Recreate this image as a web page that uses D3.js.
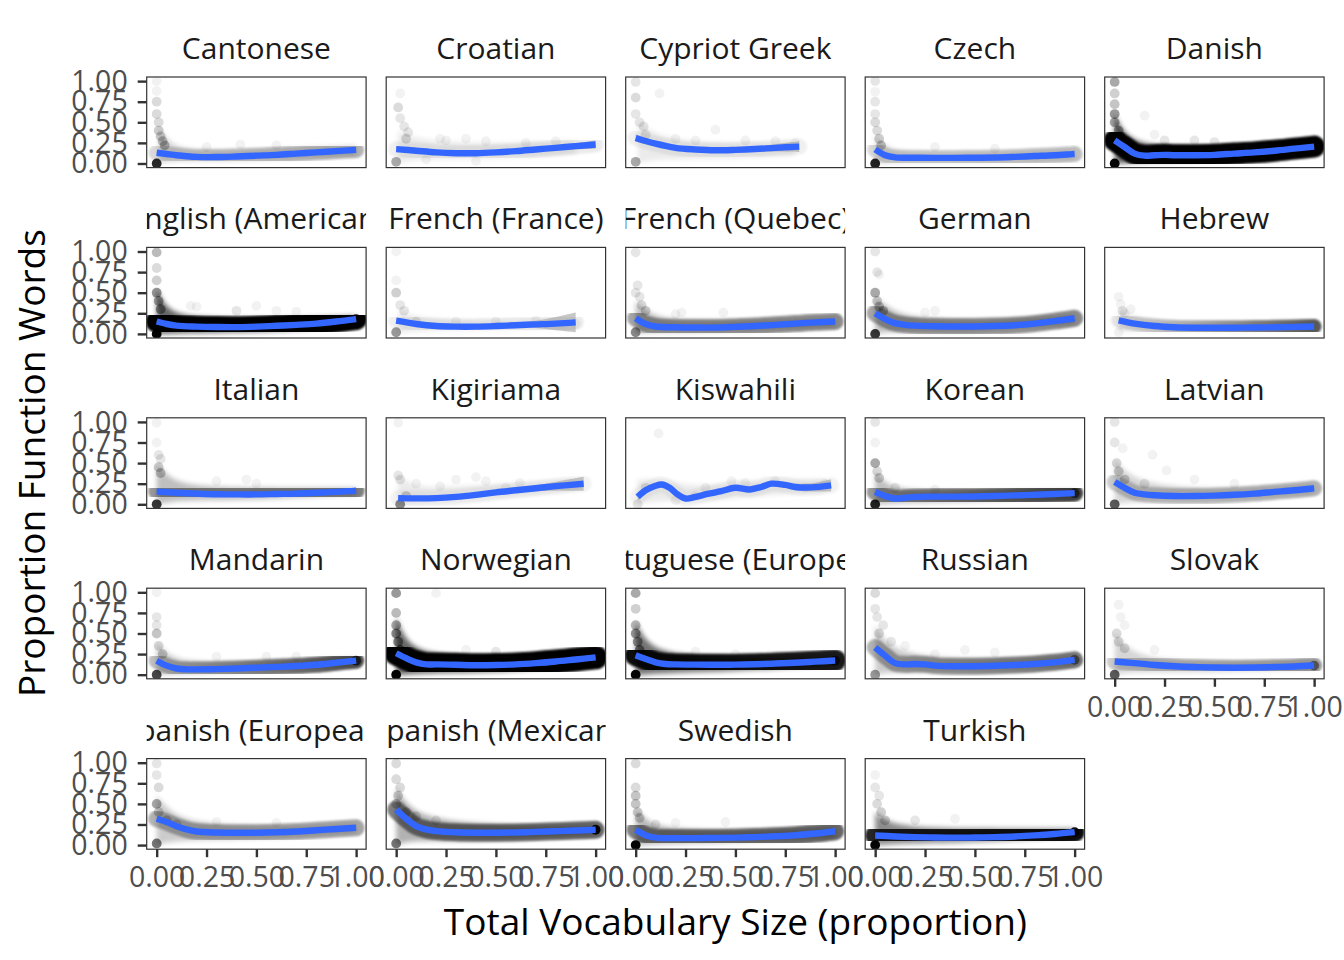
<!DOCTYPE html>
<html>
<head>
<meta charset="utf-8">
<script src="https://cdn.jsdelivr.net/npm/d3@7"></script>
<style>
body { margin: 0; background: #fff; }
svg { display: block; font-family: "Open Sans", sans-serif; }
</style>
</head>
<body>
<svg></svg>
<script>
// facets, in the order ggplot wraps them
const languages = [
  "Cantonese", "Croatian", "Cypriot Greek", "Czech", "Danish",
  "English (American)", "French (France)", "French (Quebec)", "German", "Hebrew",
  "Italian", "Kigiriama", "Kiswahili", "Korean", "Latvian",
  "Mandarin", "Norwegian", "Portuguese (European)", "Russian", "Slovak",
  "Spanish (European)", "Spanish (Mexican)", "Swedish", "Turkish"
];
const ticks = [0, 0.25, 0.5, 0.75, 1];

// loess fit: [vocab, proportion]
const smooth = {
  "Cantonese": [[0,0.13],[0.05,0.115],[0.1,0.1],[0.15,0.088],[0.2,0.08],[0.3,0.078],[0.4,0.085],[0.5,0.095],[0.6,0.105],[0.7,0.12],[0.8,0.135],[0.9,0.15],[1,0.165]],
  "Croatian": [[0,0.175],[0.1,0.155],[0.2,0.135],[0.3,0.125],[0.4,0.125],[0.5,0.135],[0.6,0.15],[0.7,0.17],[0.8,0.19],[0.9,0.21],[1,0.23]],
  "Cypriot Greek": [[0,0.31],[0.1,0.24],[0.2,0.19],[0.3,0.17],[0.4,0.16],[0.5,0.165],[0.6,0.175],[0.7,0.19],[0.82,0.205]],
  "Czech": [[0,0.17],[0.05,0.1],[0.1,0.075],[0.2,0.07],[0.3,0.068],[0.4,0.068],[0.5,0.07],[0.6,0.072],[0.7,0.08],[0.8,0.09],[0.9,0.1],[1,0.115]],
  "Danish": [[0,0.28],[0.05,0.2],[0.1,0.12],[0.15,0.095],[0.2,0.1],[0.25,0.105],[0.3,0.1],[0.4,0.1],[0.5,0.105],[0.6,0.12],[0.7,0.135],[0.8,0.155],[0.9,0.18],[1,0.205]],
  "English (American)": [[0,0.15],[0.05,0.12],[0.1,0.1],[0.2,0.088],[0.3,0.083],[0.4,0.082],[0.5,0.088],[0.6,0.098],[0.7,0.11],[0.8,0.125],[0.9,0.15],[1,0.18]],
  "French (France)": [[0,0.16],[0.1,0.12],[0.2,0.095],[0.3,0.088],[0.4,0.088],[0.5,0.095],[0.6,0.105],[0.7,0.115],[0.8,0.125],[0.9,0.14]],
  "French (Quebec)": [[0,0.19],[0.05,0.12],[0.1,0.09],[0.2,0.08],[0.3,0.077],[0.4,0.077],[0.5,0.085],[0.6,0.095],[0.7,0.11],[0.8,0.125],[0.9,0.14],[1,0.15]],
  "German": [[0,0.25],[0.05,0.18],[0.1,0.13],[0.15,0.11],[0.2,0.1],[0.3,0.092],[0.4,0.09],[0.5,0.09],[0.6,0.095],[0.7,0.105],[0.8,0.125],[0.9,0.155],[1,0.19]],
  "Hebrew": [[0.02,0.165],[0.1,0.125],[0.2,0.095],[0.3,0.08],[0.4,0.075],[0.5,0.075],[0.6,0.075],[0.7,0.077],[0.8,0.08],[0.9,0.085],[1,0.09]],
  "Italian": [[0,0.155],[0.1,0.14],[0.2,0.13],[0.3,0.122],[0.4,0.12],[0.5,0.12],[0.6,0.125],[0.7,0.13],[0.8,0.14],[0.9,0.15],[1,0.165]],
  "Kigiriama": [[0.01,0.075],[0.1,0.072],[0.2,0.075],[0.3,0.09],[0.4,0.115],[0.5,0.145],[0.6,0.17],[0.7,0.195],[0.8,0.22],[0.94,0.25]],
  "Kiswahili": [[0.01,0.09],[0.05,0.17],[0.1,0.225],[0.13,0.24],[0.17,0.2],[0.21,0.12],[0.25,0.07],[0.3,0.09],[0.36,0.125],[0.43,0.16],[0.5,0.2],[0.57,0.18],[0.63,0.21],[0.68,0.25],[0.75,0.235],[0.8,0.21],[0.88,0.205],[0.98,0.23]],
  "Korean": [[0,0.15],[0.05,0.1],[0.1,0.07],[0.15,0.08],[0.2,0.09],[0.3,0.093],[0.4,0.093],[0.5,0.095],[0.6,0.1],[0.7,0.108],[0.8,0.115],[0.9,0.125],[1,0.135]],
  "Latvian": [[0,0.27],[0.05,0.2],[0.1,0.14],[0.15,0.12],[0.2,0.11],[0.3,0.1],[0.4,0.1],[0.5,0.105],[0.6,0.115],[0.7,0.13],[0.8,0.15],[0.9,0.17],[1,0.195]],
  "Mandarin": [[0,0.17],[0.05,0.11],[0.1,0.075],[0.15,0.065],[0.2,0.065],[0.3,0.068],[0.4,0.075],[0.5,0.085],[0.6,0.095],[0.7,0.105],[0.8,0.12],[0.9,0.145],[1,0.17]],
  "Norwegian": [[0,0.26],[0.05,0.2],[0.1,0.15],[0.15,0.125],[0.2,0.125],[0.3,0.12],[0.4,0.115],[0.5,0.118],[0.6,0.125],[0.7,0.14],[0.8,0.16],[0.9,0.185],[1,0.21]],
  "Portuguese (European)": [[0,0.235],[0.05,0.19],[0.1,0.15],[0.15,0.13],[0.2,0.125],[0.3,0.122],[0.4,0.12],[0.5,0.122],[0.6,0.127],[0.7,0.135],[0.8,0.145],[0.9,0.158],[1,0.172]],
  "Russian": [[0,0.33],[0.05,0.23],[0.1,0.14],[0.15,0.125],[0.2,0.13],[0.25,0.125],[0.3,0.11],[0.4,0.102],[0.5,0.103],[0.6,0.108],[0.7,0.117],[0.8,0.13],[0.9,0.15],[1,0.18]],
  "Slovak": [[0,0.16],[0.1,0.14],[0.2,0.118],[0.3,0.103],[0.4,0.093],[0.5,0.087],[0.6,0.085],[0.7,0.087],[0.8,0.093],[0.9,0.1],[1,0.112]],
  "Spanish (European)": [[0,0.32],[0.05,0.28],[0.1,0.23],[0.15,0.19],[0.2,0.165],[0.3,0.152],[0.4,0.15],[0.5,0.15],[0.6,0.155],[0.7,0.165],[0.8,0.18],[0.9,0.195],[1,0.21]],
  "Spanish (Mexican)": [[0,0.43],[0.05,0.32],[0.1,0.23],[0.15,0.19],[0.2,0.17],[0.3,0.155],[0.4,0.15],[0.5,0.15],[0.6,0.153],[0.7,0.16],[0.8,0.168],[0.9,0.177],[1,0.186]],
  "Swedish": [[0,0.185],[0.05,0.12],[0.1,0.09],[0.2,0.085],[0.3,0.085],[0.4,0.087],[0.5,0.09],[0.6,0.097],[0.7,0.107],[0.8,0.12],[0.9,0.14],[1,0.168]],
  "Turkish": [[0,0.117],[0.1,0.105],[0.2,0.097],[0.3,0.092],[0.4,0.09],[0.5,0.092],[0.6,0.097],[0.7,0.105],[0.8,0.118],[0.9,0.135],[1,0.157]]
};

// standard error of the fit, one per smooth point (where the grey ribbon shows)
const se = {
  "Croatian": [0.035,0.022,0.018,0.016,0.016,0.016,0.018,0.022,0.028,0.038,0.05],
  "Cypriot Greek": [0.045,0.032,0.026,0.024,0.024,0.026,0.032,0.045,0.065],
  "French (France)": [0.035,0.022,0.016,0.014,0.014,0.016,0.025,0.045,0.08,0.12],
  "Kigiriama": [0.035,0.022,0.018,0.018,0.018,0.02,0.026,0.036,0.055,0.085],
  "Kiswahili": [0.05,0.035,0.032,0.032,0.03,0.028,0.028,0.026,0.026,0.026,0.026,0.026,0.028,0.03,0.034,0.04,0.05,0.075]
};
const seDefault = 0.008;

// where the bulk of the children sit: [vocab, low, high]
const cloud = {
  "Cantonese": [[0.01,0,0.45],[0.05,0.02,0.3],[0.1,0.03,0.2],[0.2,0.03,0.16],[0.5,0.04,0.16],[0.8,0.07,0.2],[1,0.1,0.22]],
  "Croatian": [[0.01,0,0.4],[0.1,0.05,0.3],[0.3,0.05,0.25],[0.6,0.07,0.25],[0.85,0.1,0.27],[0.9,0.12,0.27]],
  "Cypriot Greek": [[0.01,0,0.5],[0.1,0.05,0.35],[0.3,0.05,0.25],[0.6,0.07,0.25],[0.8,0.1,0.25]],
  "Czech": [[0,0,0.35],[0.05,0,0.2],[0.15,0.02,0.13],[0.5,0.02,0.12],[1,0.06,0.15]],
  "Danish": [[0,0,0.6],[0.05,0,0.35],[0.15,0.02,0.22],[0.4,0.03,0.2],[0.7,0.06,0.22],[1,0.14,0.26]],
  "English (American)": [[0,0,0.55],[0.05,0,0.3],[0.15,0.01,0.2],[0.5,0.02,0.18],[0.8,0.06,0.2],[1,0.13,0.22]],
  "French (France)": [[0.01,0,0.3],[0.1,0.04,0.18],[0.5,0.05,0.15],[0.85,0.08,0.16]],
  "French (Quebec)": [[0,0,0.4],[0.05,0.02,0.28],[0.15,0.02,0.16],[0.5,0.03,0.16],[1,0.1,0.18]],
  "German": [[0,0,0.45],[0.05,0.02,0.35],[0.15,0.03,0.2],[0.5,0.03,0.15],[1,0.13,0.22]],
  "Hebrew": [[0.02,0.03,0.3],[0.1,0.05,0.2],[0.3,0.04,0.12],[0.7,0.04,0.12],[1,0.06,0.12]],
  "Italian": [[0,0,0.5],[0.05,0.02,0.35],[0.15,0.05,0.22],[0.5,0.05,0.2],[1,0.12,0.2]],
  "Kigiriama": [[0.01,0,0.35],[0.1,0.02,0.2],[0.3,0.04,0.22],[0.6,0.1,0.25],[0.9,0.18,0.3]],
  "Kiswahili": [[0.01,0,0.3],[0.15,0.05,0.3],[0.3,0.03,0.2],[0.6,0.1,0.3],[0.95,0.15,0.3]],
  "Korean": [[0,0,0.4],[0.05,0,0.25],[0.15,0.02,0.17],[0.5,0.03,0.15],[1,0.1,0.17]],
  "Latvian": [[0,0,0.55],[0.05,0.02,0.4],[0.15,0.04,0.25],[0.5,0.04,0.17],[1,0.14,0.23]],
  "Mandarin": [[0,0,0.4],[0.05,0,0.25],[0.15,0.01,0.15],[0.5,0.03,0.15],[1,0.13,0.21]],
  "Norwegian": [[0,0,0.7],[0.05,0,0.4],[0.15,0.02,0.25],[0.5,0.03,0.2],[0.8,0.08,0.22],[1,0.15,0.26]],
  "Portuguese (European)": [[0,0,0.65],[0.05,0,0.4],[0.15,0.02,0.25],[0.5,0.04,0.19],[1,0.12,0.2]],
  "Russian": [[0,0,0.6],[0.05,0.02,0.4],[0.15,0.03,0.25],[0.5,0.04,0.17],[1,0.12,0.21]],
  "Slovak": [[0,0,0.5],[0.05,0.02,0.35],[0.15,0.03,0.2],[0.5,0.03,0.14],[1,0.07,0.14]],
  "Spanish (European)": [[0,0,0.6],[0.05,0.03,0.45],[0.15,0.06,0.28],[0.5,0.07,0.22],[1,0.16,0.24]],
  "Spanish (Mexican)": [[0,0,0.7],[0.05,0.04,0.5],[0.15,0.05,0.32],[0.5,0.05,0.24],[1,0.14,0.22]],
  "Swedish": [[0,0,0.45],[0.05,0,0.3],[0.15,0.02,0.2],[0.5,0.03,0.17],[1,0.1,0.2]],
  "Turkish": [[0,0,0.4],[0.05,0,0.3],[0.15,0.02,0.22],[0.5,0.03,0.2],[1,0.1,0.2]]
};

// single children / stacks of children: [vocab, proportion, how many]
const points = {
  "Cantonese": [[0,0,35],[0,1,1],[0,0.88,1],[0,0.75,3],[0,0.6,3],[0.01,0.5,3],[0.01,0.4,4],[0.02,0.33,4],[0.03,0.27,5],[0.04,0.22,6],[0.25,0.2,1],[0.42,0.23,1],[0.6,0.22,1]],
  "Croatian": [[0,0.02,8],[0.02,0.85,1],[0.01,0.68,3],[0.02,0.55,2],[0.04,0.45,2],[0.06,0.38,2],[0.05,0.3,3],[0.22,0.3,1],[0.25,0.28,1],[0.35,0.3,1],[0.45,0.27,1],[0.65,0.25,1],[0.8,0.27,1],[0.15,0.05,1],[0.4,0.03,1]],
  "Cypriot Greek": [[0,0.02,8],[0,0.99,2],[0,0.8,3],[0.12,0.85,1],[0,0.6,2],[0.02,0.5,2],[0.04,0.45,2],[0.05,0.35,2],[0.4,0.41,1],[0.2,0.3,1],[0.3,0.28,1],[0.55,0.28,1],[0.7,0.27,1],[0.8,0.25,1]],
  "Czech": [[0,0,40],[0,1,2],[0,0.87,1],[0,0.75,2],[0,0.6,2],[0,0.5,3],[0.01,0.4,3],[0.02,0.3,4],[0.03,0.22,5],[0.3,0.2,1],[0.6,0.18,1]],
  "Danish": [[0,0,80],[0,0.99,8],[0,0.85,4],[0,0.72,5],[0,0.6,10],[0,0.5,8],[0.02,0.4,8],[0.03,0.33,10],[0.15,0.58,1],[0.2,0.35,1],[0.25,0.28,2],[0.4,0.28,2],[0.5,0.26,2]],
  "English (American)": [[0,0,90],[0,0.99,6],[0,0.8,3],[0,0.65,4],[0,0.5,10],[0.01,0.4,8],[0.02,0.3,10],[0.17,0.34,1],[0.2,0.33,1],[0.5,0.34,1],[0.6,0.28,1],[0.4,0.28,2],[0.7,0.27,1],[1,0.18,40]],
  "French (France)": [[0,0.02,10],[0,1,1],[0,0.65,1],[0,0.5,4],[0.02,0.35,2],[0.04,0.28,2],[0.1,0.15,2],[0.3,0.15,1],[0.5,0.15,1],[0.7,0.16,1],[0.9,0.12,1]],
  "French (Quebec)": [[0,0.02,12],[0,0.99,2],[0.01,0.59,2],[0,0.5,2],[0.02,0.45,2],[0.03,0.35,3],[0.05,0.28,4],[0.23,0.26,1],[0.2,0.24,1],[0.44,0.26,1]],
  "German": [[0,0,30],[0,1,2],[0.01,0.75,2],[0.02,0.72,1],[0,0.5,8],[0.01,0.4,4],[0.02,0.33,5],[0.04,0.28,6],[0.3,0.28,1],[0.25,0.26,1]],
  "Hebrew": [[0.02,0.45,1],[0.03,0.36,1],[0.04,0.28,2],[0.05,0.25,1],[0.08,0.3,1],[0.02,0.02,1]],
  "Italian": [[0,0,30],[0,0.99,1],[0,0.75,1],[0.01,0.6,2],[0.02,0.55,2],[0.01,0.45,4],[0.02,0.38,5],[0.3,0.28,1],[0.45,0.3,1],[0.5,0.25,1]],
  "Kigiriama": [[0.02,0,12],[0.01,0.99,1],[0.01,0.35,2],[0.02,0.3,2],[0.1,0.25,1],[0.22,0.22,1],[0.3,0.3,1],[0.4,0.33,1],[0.45,0.28,1],[0.62,0.26,1],[0.55,0.2,1],[0.05,0.1,4]],
  "Kiswahili": [[0.115,0.86,1],[0.01,0,2],[0.05,0.2,2],[0.2,0.05,1],[0.35,0.2,1],[0.48,0.28,1],[0.55,0.26,1],[0.7,0.28,1],[0.85,0.2,1],[0.95,0.25,1],[0.3,0.1,1]],
  "Korean": [[0,0,40],[0,1,2],[0,0.75,1],[0,0.5,8],[0.01,0.4,3],[0.02,0.32,4],[0.1,0.2,2],[0.3,0.18,1],[1,0.135,15]],
  "Latvian": [[0,0,20],[0,1,2],[0,0.75,2],[0.04,0.68,1],[0.19,0.6,1],[0.26,0.41,1],[0.01,0.5,3],[0.02,0.4,4],[0.05,0.3,4],[0.15,0.25,2],[0.4,0.3,1],[0.6,0.25,1]],
  "Mandarin": [[0,0,25],[0,1,1],[0,0.7,2],[0,0.6,2],[0,0.5,5],[0.01,0.35,3],[0.03,0.25,4],[0.3,0.22,1],[0.55,0.22,1],[0.7,0.22,1],[1,0.17,20]],
  "Norwegian": [[0,0,90],[0,0.99,10],[0.2,0.99,1],[0,0.75,6],[0,0.6,8],[0,0.5,12],[0.01,0.4,12],[0.02,0.3,15],[0.5,0.28,2],[0.35,0.3,1],[1,0.21,50]],
  "Portuguese (European)": [[0,0,90],[0,0.99,8],[0,0.8,4],[0,0.6,6],[0,0.5,10],[0.01,0.4,10],[0.02,0.3,12],[0.3,0.28,1],[0.5,0.25,1],[1,0.17,20]],
  "Russian": [[0,0,10],[0,0.99,3],[0,0.8,2],[0.01,0.7,2],[0.04,0.6,2],[0.02,0.5,3],[0.08,0.4,2],[0.15,0.35,1],[0.45,0.3,1],[0.6,0.27,1],[0.3,0.25,1],[1,0.18,12]],
  "Slovak": [[0,0,20],[0.02,0.85,1],[0.03,0.7,1],[0.05,0.6,1],[0.01,0.5,3],[0.02,0.4,3],[0.05,0.32,3],[0.2,0.3,1],[1,0.11,12]],
  "Spanish (European)": [[0,0.02,15],[0,0.99,2],[0,0.85,2],[0.01,0.7,3],[0,0.5,8],[0.01,0.4,4],[0.05,0.3,4],[0.1,0.25,3],[0.3,0.28,1],[0.6,0.27,1]],
  "Spanish (Mexican)": [[0,0.02,15],[0,0.99,3],[0,0.8,3],[0.02,0.7,3],[0.01,0.6,4],[0,0.5,4],[0.05,0.4,4],[0.1,0.35,3],[0.2,0.3,2],[1,0.186,60]],
  "Swedish": [[0,0,80],[0,0.99,3],[0,0.7,3],[0,0.6,5],[0,0.5,5],[0.01,0.4,4],[0.02,0.33,4],[0.1,0.25,2],[0.2,0.27,1],[0.45,0.28,1]],
  "Turkish": [[0,0,80],[0,0.85,1],[0,0.7,2],[0.02,0.6,2],[0.01,0.5,3],[0.03,0.4,4],[0.05,0.3,4],[0.2,0.3,2],[0.4,0.32,1],[1,0.157,60]]
};

// how dark the cloud reads per facet: [cloud, core at left, core at right, core width px]
const shade = {
  "Cantonese": [0.16, 0.15, 0.3, 16], "Croatian": [0.08, 0.06, 0.08, 16],
  "Cypriot Greek": [0.08, 0.06, 0.06, 16], "Czech": [0.14, 0.15, 0.25, 16],
  "Danish": [0.6, 1, 1, 22], "English (American)": [0.6, 1, 1, 22],
  "French (France)": [0.08, 0.06, 0.08, 16], "French (Quebec)": [0.25, 0.35, 0.45, 17],
  "German": [0.25, 0.35, 0.45, 17], "Hebrew": [0.1, 0.1, 0.65, 15],
  "Italian": [0.25, 0.4, 0.5, 17], "Kigiriama": [0.08, 0.05, 0.05, 16],
  "Kiswahili": [0.08, 0.05, 0.05, 16], "Korean": [0.25, 0.4, 0.75, 17],
  "Latvian": [0.16, 0.2, 0.3, 16], "Mandarin": [0.2, 0.25, 0.7, 16],
  "Norwegian": [0.6, 1, 1, 24], "Portuguese (European)": [0.55, 0.95, 0.9, 22],
  "Russian": [0.2, 0.3, 0.55, 17], "Slovak": [0.16, 0.2, 0.4, 16],
  "Spanish (European)": [0.2, 0.3, 0.35, 17], "Spanish (Mexican)": [0.3, 0.5, 0.6, 18],
  "Swedish": [0.28, 0.5, 0.6, 18], "Turkish": [0.45, 0.85, 0.95, 20]
};

const width = 1344, height = 960;
const ncol = 5;
const pw = 219.4, ph = 90.6;
const left0 = 146.7, top0 = 77, colStep = 239.5, rowStep = 170.4;
const pointAlpha = 0.05;

const svg = d3.select("svg")
    .attr("width", width)
    .attr("height", height);
const defs = svg.append("defs");
defs.append("filter").attr("id", "soft")
    .attr("x", "-20%").attr("y", "-50%").attr("width", "140%").attr("height", "200%")
  .append("feGaussianBlur").attr("stdDeviation", 2.5);
defs.append("filter").attr("id", "softer")
    .attr("x", "-20%").attr("y", "-50%").attr("width", "140%").attr("height", "200%")
  .append("feGaussianBlur").attr("stdDeviation", 1.3);

const x = d3.scaleLinear().domain([-0.05, 1.05]).range([0, pw]);
const y = d3.scaleLinear().domain([-0.05, 1.05]).range([ph, 0]);

const fitLine = d3.line()
    .x(d => x(d[0]))
    .y(d => y(d[1]))
    .curve(d3.curveCatmullRom);
const ribbon = d3.area()
    .x(d => x(d[0]))
    .y0(d => y(d[1] - d[2]))
    .y1(d => y(d[1] + d[2]))
    .curve(d3.curveCatmullRom);
const cloudArea = d3.area()
    .x(d => x(d[0]))
    .y0(d => y(d[1]))
    .y1(d => y(d[2]))
    .curve(d3.curveBasis);

function styleAxis(g) {
    g.select(".domain").remove();
    g.selectAll(".tick line").attr("stroke", "#333333").attr("stroke-width", 2.4);
    g.selectAll(".tick text")
        .attr("font-family", "Open Sans")
        .attr("font-size", 28.5)
        .attr("fill", "#4d4d4d");
}

languages.forEach((lang, i) => {
    const r = Math.floor(i / ncol), c = i % ncol;
    const [cloudOp, coreL, coreR, coreW] = shade[lang];
    const g = svg.append("g")
        .attr("transform", `translate(${left0 + c * colStep},${top0 + r * rowStep})`);

    defs.append("clipPath").attr("id", "panel" + i)
      .append("rect").attr("width", pw).attr("height", ph);
    defs.append("clipPath").attr("id", "strip" + i)
      .append("rect").attr("y", -52).attr("width", pw).attr("height", 52);
    const grad = defs.append("linearGradient").attr("id", "core" + i)
        .attr("gradientUnits", "userSpaceOnUse")
        .attr("x1", x(0)).attr("x2", x(1)).attr("y1", 0).attr("y2", 0);
    grad.append("stop").attr("offset", 0).attr("stop-color", "#000").attr("stop-opacity", coreL);
    grad.append("stop").attr("offset", 1).attr("stop-color", "#000").attr("stop-opacity", coreR);

    g.append("text")
        .attr("clip-path", `url(#strip${i})`)
        .attr("x", pw / 2)
        .attr("y", -18)
        .attr("text-anchor", "middle")
        .attr("font-size", 30)
        .attr("fill", "#1a1a1a")
        .text(lang);

    g.append("rect").attr("width", pw).attr("height", ph).attr("fill", "#fff");

    const body = g.append("g").attr("clip-path", `url(#panel${i})`);
    body.append("path")
        .datum(cloud[lang])
        .attr("d", cloudArea)
        .attr("fill", "#000")
        .attr("opacity", cloudOp)
        .attr("filter", "url(#soft)");
    body.append("path")
        .datum(smooth[lang])
        .attr("d", fitLine)
        .attr("fill", "none")
        .attr("stroke", `url(#core${i})`)
        .attr("stroke-width", coreW)
        .attr("stroke-linecap", "round")
        .attr("filter", "url(#softer)");
    body.selectAll("circle")
        .data(points[lang])
        .enter().append("circle")
        .attr("cx", d => x(d[0]))
        .attr("cy", d => y(d[1]))
        .attr("r", 4.9)
        .attr("fill", "#000")
        .attr("fill-opacity", d => 1 - Math.pow(1 - pointAlpha, d[2]));

    const seRow = se[lang] || [];
    body.append("path")
        .datum(smooth[lang].map((d, j) => [d[0], d[1], seRow[j] !== undefined ? seRow[j] : seDefault]))
        .attr("d", ribbon)
        .attr("fill", "#999999")
        .attr("fill-opacity", 0.55);
    body.append("path")
        .datum(smooth[lang])
        .attr("d", fitLine)
        .attr("fill", "none")
        .attr("stroke", "#3366FF")
        .attr("stroke-width", 6.4);

    g.append("rect")
        .attr("width", pw).attr("height", ph)
        .attr("fill", "none")
        .attr("stroke", "#333333")
        .attr("stroke-width", 1.2);

    if (c === 0) {
        g.append("g")
            .call(d3.axisLeft(y).tickValues(ticks).tickFormat(d3.format(".2f")).tickSize(9).tickPadding(10))
            .call(styleAxis);
    }
    if (i + ncol >= languages.length) {
        g.append("g")
            .attr("transform", `translate(0,${ph})`)
            .call(d3.axisBottom(x).tickValues(ticks).tickFormat(d3.format(".2f")).tickSize(8).tickPadding(10))
            .call(styleAxis);
    }
});

svg.append("text")
    .attr("x", left0 + (4 * colStep + pw) / 2)
    .attr("y", 935)
    .attr("text-anchor", "middle")
    .attr("font-size", 37)
    .attr("fill", "#000")
    .text("Total Vocabulary Size (proportion)");
svg.append("text")
    .attr("transform", `translate(45,${top0 + (4 * rowStep + ph) / 2}) rotate(-90)`)
    .attr("text-anchor", "middle")
    .attr("font-size", 37)
    .attr("fill", "#000")
    .text("Proportion Function Words");
</script>
</body>
</html>
